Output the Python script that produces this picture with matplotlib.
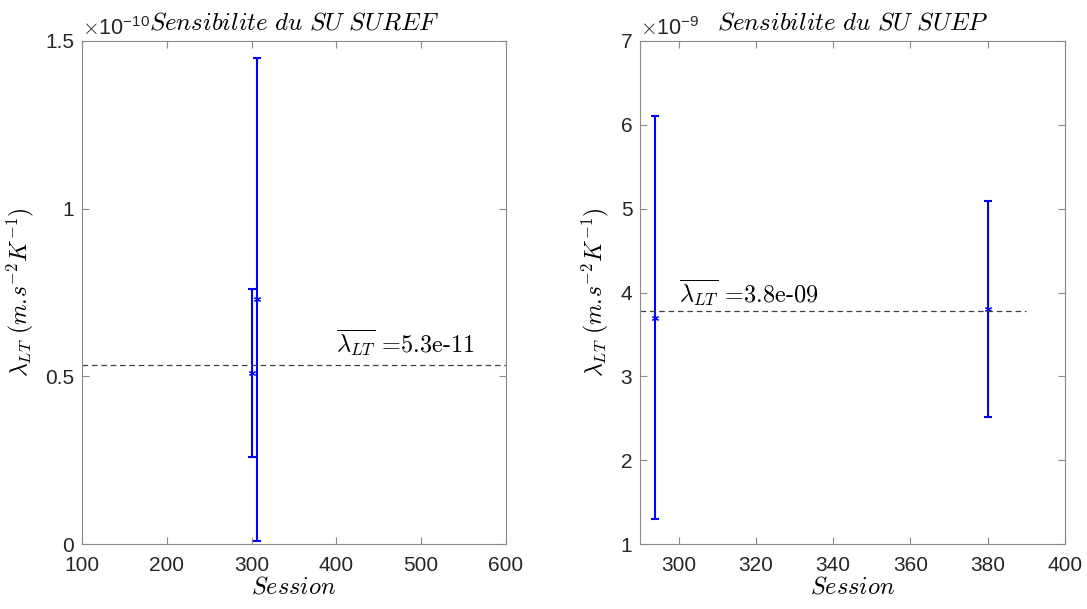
import numpy as np
import matplotlib
matplotlib.use("Agg")
import matplotlib.pyplot as plt
from matplotlib.ticker import FuncFormatter

plt.rcParams['font.family'] = ['Liberation Sans', 'DejaVu Sans']
plt.rcParams['mathtext.fontset'] = 'cm'

# SU SUREF
suref_session = [300, 306]
suref_lambda = [0.51e-10, 0.73e-10]
suref_err = [0.25e-10, 0.72e-10]
suref_mean = 5.34e-11

# SU SUEP
suep_session = [294, 380]
suep_lambda = [3.70e-9, 3.80e-9]
suep_err = [2.40e-9, 1.29e-9]
suep_mean = 3.78e-9

TICK_COLOR = '#262626'
SPINE_COLOR = '#8a8a8a'


def panel(ax, x, y, err, mean, mean_span, txt_pos, power, xlim, xticks, ylim, yticks, name):
    ax.errorbar(x, y, yerr=err, fmt='none', ecolor='#0000ff', elinewidth=1.5,
                capsize=2.6, capthick=1.5)
    ax.plot(x, y, linestyle='none', marker=(6, 2, 0), markersize=5,
            color='#0000ff', markeredgewidth=0.8)
    ax.plot(mean_span, [mean, mean], color='#404040', lw=0.9, dashes=(4.5, 3))
    ax.text(txt_pos[0], txt_pos[1], r'$\overline{\lambda_{LT}}$ =%.1e' % mean,
            fontfamily='cmr10', fontsize=17.5, va='center', ha='left')

    ax.set_xlim(xlim)
    ax.set_ylim(ylim)
    ax.set_xticks(xticks)
    ax.set_yticks(yticks)
    scale = 10.0 ** power
    ax.yaxis.set_major_formatter(FuncFormatter(lambda v, p: '%g' % round(v / scale, 6)))
    ax.tick_params(direction='in', length=5, width=0.8, color=SPINE_COLOR,
                   labelcolor=TICK_COLOR, labelsize=15, top=True, right=True)
    ax.tick_params(axis='x', pad=8.5)
    ax.tick_params(axis='y', pad=5.5)
    for s in ax.spines.values():
        s.set_color(SPINE_COLOR)
        s.set_linewidth(0.8)

    ax.text(0.0, 1.012, r'$\times\mathregular{10^{%d}}$' % power, transform=ax.transAxes,
            fontsize=15.5, color=TICK_COLOR, ha='left', va='baseline')
    ax.set_title(r'$Sensibilite\ du\ SU\ %s$' % name, fontsize=18, pad=8)
    ax.set_xlabel(r'$Session$', fontsize=17.5, labelpad=1)
    ax.set_ylabel(r'$\lambda_{LT}\ (m.\!s^{-2}K^{-1})$', fontsize=17, labelpad=7)


fig = plt.figure(figsize=(10.87, 6.09), dpi=100)
ax1 = fig.add_axes([82 / 1087, 65 / 609, 424 / 1087, 503 / 609])
ax2 = fig.add_axes([640 / 1087, 65 / 609, 425 / 1087, 503 / 609])

panel(ax1, suref_session, suref_lambda, suref_err, suref_mean, [100, 600], (400, 0.6e-10),
      -10, (100, 600), np.arange(100, 601, 100), (0, 1.5e-10), np.arange(0, 1.51e-10, 0.5e-10),
      'SUREF')
panel(ax2, suep_session, suep_lambda, suep_err, suep_mean, [290, 390], (300, 4.0e-9),
      -9, (290, 400), np.arange(300, 401, 20), (1e-9, 7e-9), np.arange(1e-9, 7.01e-9, 1e-9),
      'SUEP')

fig.savefig('out.png', dpi=100)
